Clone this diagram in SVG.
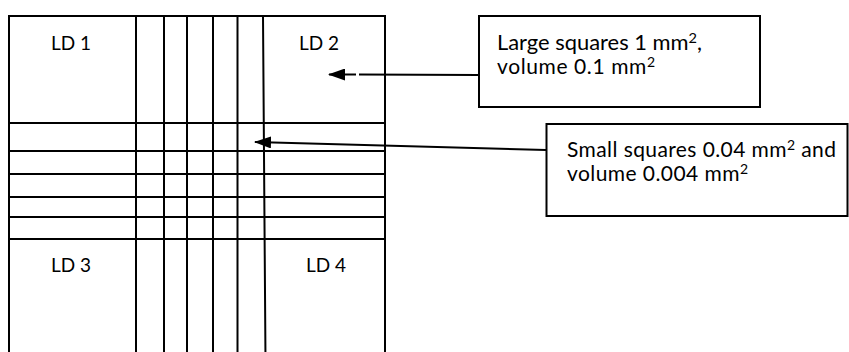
<svg xmlns="http://www.w3.org/2000/svg" width="849" height="352" viewBox="0 0 849 352">
<style>
.ln{stroke:#000;stroke-width:2;fill:none}
.box{stroke:#000;stroke-width:2;fill:#fff}
.t{font-family:Lato,"Open Sans","Liberation Sans",sans-serif;font-size:19px;fill:#000}
.b{font-size:21px}
.sup{font-size:14px}
</style>
<defs>
<marker id="ah" markerWidth="17" markerHeight="12" refX="16" refY="6" orient="auto" markerUnits="userSpaceOnUse">
<path d="M0,0 L17,6 L0,12 Z" fill="#000"/>
</marker>
</defs>
<rect width="849" height="352" fill="#fff"/>
<g id="chamber">
<path class="ln" d="M9,360 V16 H385 V360"/>
<path class="ln" d="M136,16 V360 M164,16 V360 M187,16 V360 M213,16 V360 M237.5,16 V360 M263,16 L265.5,360"/>
<path class="ln" d="M9,123 H385 M9,151 H385 M9,174 H385 M9,197 H385 M9,217 H385 M9,239 H385"/>
</g>
<g id="ld1"><text class="t" x="71" y="50" text-anchor="middle">LD 1</text></g>
<g id="ld2"><text class="t" x="319" y="50" text-anchor="middle">LD 2</text></g>
<g id="ld3"><text class="t" x="71" y="272" text-anchor="middle">LD 3</text></g>
<g id="ld4"><text class="t" x="326" y="272" text-anchor="middle">LD 4</text></g>
<g id="connectors">
<line class="ln" x1="479" y1="75" x2="359" y2="74.5"/>
<line class="ln" x1="356" y1="74.5" x2="329" y2="74.5" marker-end="url(#ah)"/>
<line class="ln" x1="546" y1="150" x2="255" y2="142" marker-end="url(#ah)"/>
</g>
<g id="large-box">
<rect class="box" x="479" y="16" width="281" height="91"/>
<text class="t b" x="497" y="50" textLength="205" lengthAdjust="spacingAndGlyphs">Large squares 1 mm<tspan class="sup" dy="-7">2</tspan><tspan dy="7">,</tspan></text>
<text class="t b" x="497" y="74" textLength="158" lengthAdjust="spacing">volume 0.1 mm<tspan class="sup" dy="-7">2</tspan></text>
</g>
<g id="small-box">
<rect class="box" x="546.5" y="124" width="301" height="92"/>
<text class="t b" x="567" y="157" textLength="269" lengthAdjust="spacing">Small squares 0.04 mm<tspan class="sup" dy="-7">2</tspan><tspan dy="7"> and</tspan></text>
<text class="t b" x="567" y="181" textLength="181" lengthAdjust="spacing">volume 0.004 mm<tspan class="sup" dy="-7">2</tspan></text>
</g>
</svg>
